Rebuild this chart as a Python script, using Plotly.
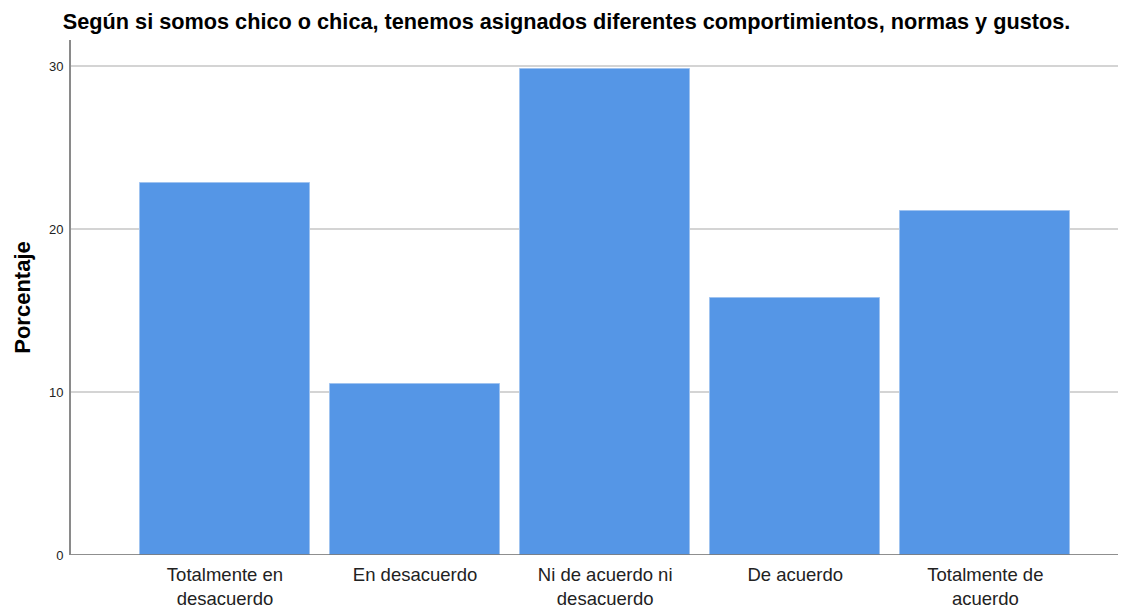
import plotly.graph_objects as go

categories = ["Totalmente en<br>desacuerdo", "En desacuerdo", "Ni de acuerdo ni<br>desacuerdo",
              "De acuerdo", "Totalmente de<br>acuerdo"]
porcentaje = [22.8, 10.5, 29.8, 15.8, 21.1]
y_ticks = [0, 10, 20, 30]

fig = go.Figure()
fig.add_trace(go.Bar(
    x=list(range(len(categories))), y=porcentaje, width=0.895,
    marker=dict(color="#5596E6", line=dict(color="#9fc3f0", width=1)),
    hoverinfo="skip"))

# the page adds an 8px body margin, so the figure is sized to fill the rest
fig.update_layout(
    width=1118, height=601,
    margin=dict(l=63, r=0, t=32, b=54),
    paper_bgcolor="white", plot_bgcolor="white",
    font=dict(family="Liberation Sans, Arial, sans-serif", color="#000"),
    title=dict(text="<b>Según si somos chico o chica, tenemos asignados diferentes comportimientos, normas y gustos.</b>",
               x=0.4996, xanchor="center", xref="container", y=0.978, yref="container", yanchor="middle",
               font=dict(size=21.7, color="#000")),
    showlegend=False,
    bargap=0,
)
fig.update_xaxes(
    range=[-0.81, 4.74], tickmode="array", tickvals=list(range(len(categories))),
    ticktext=categories, ticks="", showgrid=False, zeroline=False, automargin=False,
    showline=False, tickfont=dict(size=18.5, color="#222"), ticklabelstandoff=6)
fig.update_yaxes(
    range=[0, 31.6], tickmode="array", tickvals=y_ticks, ticks="", automargin=False,
    showgrid=True, gridcolor="#d4d4d4", gridwidth=1.5, zeroline=False,
    showline=True, linecolor="#8a8a8a", linewidth=2,
    tickfont=dict(size=13, color="#222"), ticklabelstandoff=3,
    title=dict(text="<b>Porcentaje</b>", font=dict(size=22, color="#000"), standoff=12))
fig.add_shape(type="line", xref="paper", yref="y", x0=0, x1=1, y0=0, y1=0,
              line=dict(color="#6a6a6a", width=1.5))
fig.write_html("out.html")
